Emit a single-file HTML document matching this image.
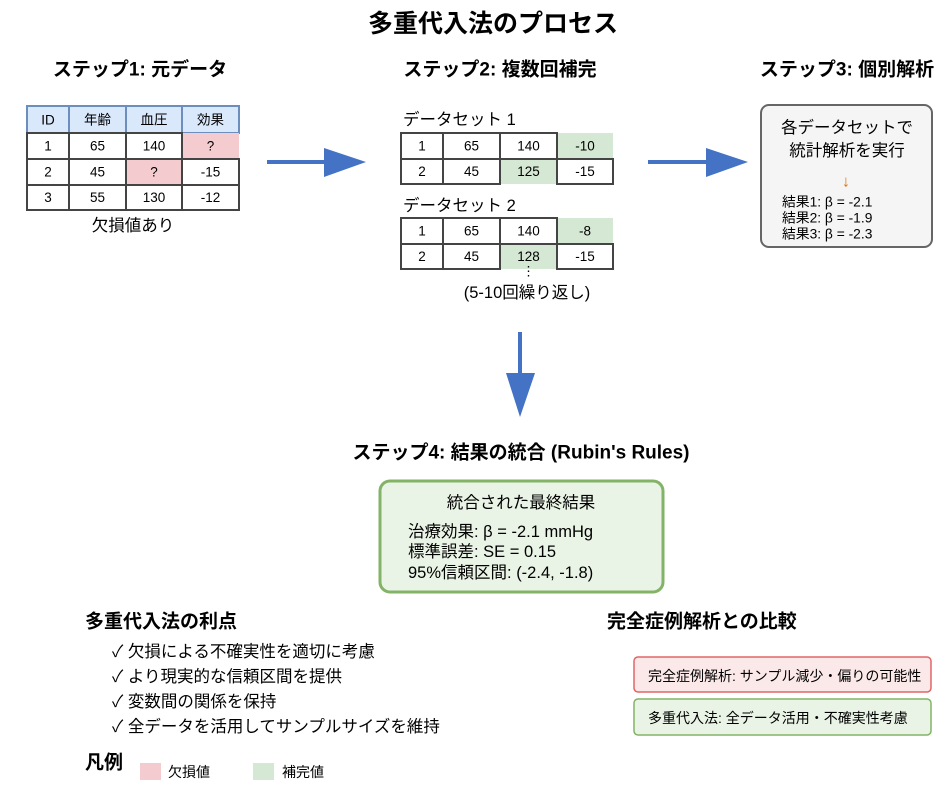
<!DOCTYPE html>
<html><head><meta charset="utf-8"><style>
html,body{margin:0;padding:0;background:#fff;}
svg{display:block;}
text{font-family:"Liberation Sans","Noto Sans CJK JP",sans-serif;fill:#000;}
.h{font-weight:bold;font-size:19px;}
.c{font-size:13.5px;text-anchor:middle;dominant-baseline:central;}
</style></head><body>
<svg width="952" height="789" viewBox="0 0 952 789" xmlns="http://www.w3.org/2000/svg">
<!-- Title -->
<text x="493" y="24" font-size="25" font-weight="bold" text-anchor="middle" dominant-baseline="central">多重代入法のプロセス</text>
<text class="h" x="140" y="70" text-anchor="middle" dominant-baseline="central">ステップ1: 元データ</text>
<text class="h" x="500" y="70" text-anchor="middle" dominant-baseline="central">ステップ2: 複数回補完</text>
<text class="h" x="847" y="70" text-anchor="middle" dominant-baseline="central">ステップ3: 個別解析</text>

<!-- Table 1 -->
<g stroke="#6c8ebf" stroke-width="2" fill="#dae8fc">
<rect x="27" y="106" width="42" height="27"/><rect x="69" y="106" width="57" height="27"/><rect x="126" y="106" width="56" height="27"/><rect x="182" y="106" width="57" height="27"/>
</g>
<rect x="182" y="133" width="57" height="26" fill="#f4cccf"/>
<rect x="126" y="159" width="56" height="26" fill="#f4cccf"/>
<g stroke="#444" stroke-width="2" fill="#fff">
<rect x="27" y="133" width="42" height="26"/><rect x="69" y="133" width="57" height="26"/><rect x="126" y="133" width="56" height="26"/>
<rect x="27" y="159" width="42" height="26"/><rect x="69" y="159" width="57" height="26"/><rect x="182" y="159" width="57" height="26"/>
<rect x="27" y="185" width="42" height="25"/><rect x="69" y="185" width="57" height="25"/><rect x="126" y="185" width="56" height="25"/><rect x="182" y="185" width="57" height="25"/>
</g>
<text class="c" x="48" y="120">ID</text><text class="c" x="97.5" y="120">年齢</text><text class="c" x="154" y="120">血圧</text><text class="c" x="210.5" y="120">効果</text>
<text class="c" x="48" y="146">1</text><text class="c" x="97.5" y="146">65</text><text class="c" x="154" y="146">140</text><text class="c" x="210.5" y="146">?</text>
<text class="c" x="48" y="172">2</text><text class="c" x="97.5" y="172">45</text><text class="c" x="154" y="172">?</text><text class="c" x="210.5" y="172">-15</text>
<text class="c" x="48" y="197.5">3</text><text class="c" x="97.5" y="197.5">55</text><text class="c" x="154" y="197.5">130</text><text class="c" x="210.5" y="197.5">-12</text>
<text x="133" y="226" font-size="16.5" text-anchor="middle" dominant-baseline="central">欠損値あり</text>

<!-- Arrow 1 -->
<line x1="267" y1="162" x2="330" y2="162" stroke="#4472c4" stroke-width="4"/>
<polygon points="324,148 366,162 324,177" fill="#4472c4"/>
<!-- Arrow 2 -->
<line x1="648" y1="162" x2="712" y2="162" stroke="#4472c4" stroke-width="4"/>
<polygon points="706,148 748,162 706,177" fill="#4472c4"/>

<!-- Dataset 1 -->
<text x="403" y="120" font-size="16.5" dominant-baseline="central">データセット 1</text>
<rect x="557" y="133" width="56" height="26" fill="#d5e8d4"/>
<rect x="500" y="159" width="57" height="25" fill="#d5e8d4"/>
<g stroke="#444" stroke-width="2" fill="#fff">
<rect x="401" y="133" width="42" height="26"/><rect x="443" y="133" width="57" height="26"/><rect x="500" y="133" width="57" height="26"/>
<rect x="401" y="159" width="42" height="25"/><rect x="443" y="159" width="57" height="25"/><rect x="557" y="159" width="56" height="25"/>
</g>
<text class="c" x="422" y="146">1</text><text class="c" x="471.5" y="146">65</text><text class="c" x="528.5" y="146">140</text><text class="c" x="585" y="146">-10</text>
<text class="c" x="422" y="171.5">2</text><text class="c" x="471.5" y="171.5">45</text><text class="c" x="528.5" y="171.5">125</text><text class="c" x="585" y="171.5">-15</text>

<!-- Dataset 2 -->
<text x="403" y="206" font-size="16.5" dominant-baseline="central">データセット 2</text>
<rect x="557" y="218" width="56" height="26" fill="#d5e8d4"/>
<rect x="500" y="244" width="57" height="25" fill="#d5e8d4"/>
<g stroke="#444" stroke-width="2" fill="#fff">
<rect x="401" y="218" width="42" height="26"/><rect x="443" y="218" width="57" height="26"/><rect x="500" y="218" width="57" height="26"/>
<rect x="401" y="244" width="42" height="25"/><rect x="443" y="244" width="57" height="25"/><rect x="557" y="244" width="56" height="25"/>
</g>
<text class="c" x="422" y="231">1</text><text class="c" x="471.5" y="231">65</text><text class="c" x="528.5" y="231">140</text><text class="c" x="585" y="231">-8</text>
<text class="c" x="422" y="256.5">2</text><text class="c" x="471.5" y="256.5">45</text><text class="c" x="528.5" y="256.5">128</text><text class="c" x="585" y="256.5">-15</text>
<text class="c" x="528.5" y="271">⋮</text>
<text x="527" y="293" font-size="16.5" text-anchor="middle" dominant-baseline="central">(5-10回繰り返し)</text>

<!-- Step 3 box -->
<rect x="761" y="105" width="171" height="142" rx="8" fill="#f5f5f5" stroke="#666" stroke-width="2"/>
<text x="847" y="128" font-size="16.5" text-anchor="middle" dominant-baseline="central">各データセットで</text>
<text x="847" y="151" font-size="16.5" text-anchor="middle" dominant-baseline="central">統計解析を実行</text>
<text x="846" y="182" font-size="16" style="fill:#e07000" text-anchor="middle" dominant-baseline="central">↓</text>
<text x="782" y="202" font-size="13.8" dominant-baseline="central">結果1: β = -2.1</text>
<text x="782" y="218" font-size="13.8" dominant-baseline="central">結果2: β = -1.9</text>
<text x="782" y="234" font-size="13.8" dominant-baseline="central">結果3: β = -2.3</text>

<!-- Down arrow -->
<line x1="520" y1="332" x2="520" y2="380" stroke="#4472c4" stroke-width="4"/>
<polygon points="506,373 535,373 520,417" fill="#4472c4"/>

<!-- Step 4 -->
<text class="h" x="521" y="453" text-anchor="middle" dominant-baseline="central">ステップ4: 結果の統合 (Rubin's Rules)</text>
<rect x="380" y="481" width="283" height="111" rx="10" fill="#eaf4e6" stroke="#82b366" stroke-width="3"/>
<text x="521" y="503" font-size="16.5" text-anchor="middle" dominant-baseline="central">統合された最終結果</text>
<text x="408" y="532" font-size="16.5" dominant-baseline="central">治療効果: β = -2.1 mmHg</text>
<text x="408" y="552" font-size="16.5" dominant-baseline="central">標準誤差: SE = 0.15</text>
<text x="408" y="573" font-size="16.5" dominant-baseline="central">95%信頼区間: (-2.4, -1.8)</text>

<!-- Advantages -->
<text class="h" x="85" y="622" dominant-baseline="central">多重代入法の利点</text>
<text x="112" y="652" font-size="16.5" dominant-baseline="central">✓ 欠損による不確実性を適切に考慮</text>
<text x="112" y="677" font-size="16.5" dominant-baseline="central">✓ より現実的な信頼区間を提供</text>
<text x="112" y="702" font-size="16.5" dominant-baseline="central">✓ 変数間の関係を保持</text>
<text x="112" y="727" font-size="16.5" dominant-baseline="central">✓ 全データを活用してサンプルサイズを維持</text>

<!-- Legend -->
<text class="h" x="85" y="763" dominant-baseline="central">凡例</text>
<rect x="140" y="763" width="21" height="17" fill="#f4cccf"/>
<text x="168" y="772" font-size="14" dominant-baseline="central">欠損値</text>
<rect x="253" y="763" width="21" height="17" fill="#d5e8d4"/>
<text x="282" y="772" font-size="14" dominant-baseline="central">補完値</text>

<!-- Comparison -->
<text class="h" x="607" y="622" dominant-baseline="central">完全症例解析との比較</text>
<rect x="634" y="657" width="297" height="35" rx="4" fill="#fbe9ea" stroke="#e06666" stroke-width="1.5"/>
<text x="648" y="676" font-size="14" dominant-baseline="central">完全症例解析: サンプル減少・偏りの可能性</text>
<rect x="634" y="699" width="297" height="36" rx="4" fill="#eaf4e6" stroke="#82b366" stroke-width="1.5"/>
<text x="648" y="718" font-size="14" dominant-baseline="central">多重代入法: 全データ活用・不確実性考慮</text>
</svg>
</body></html>
